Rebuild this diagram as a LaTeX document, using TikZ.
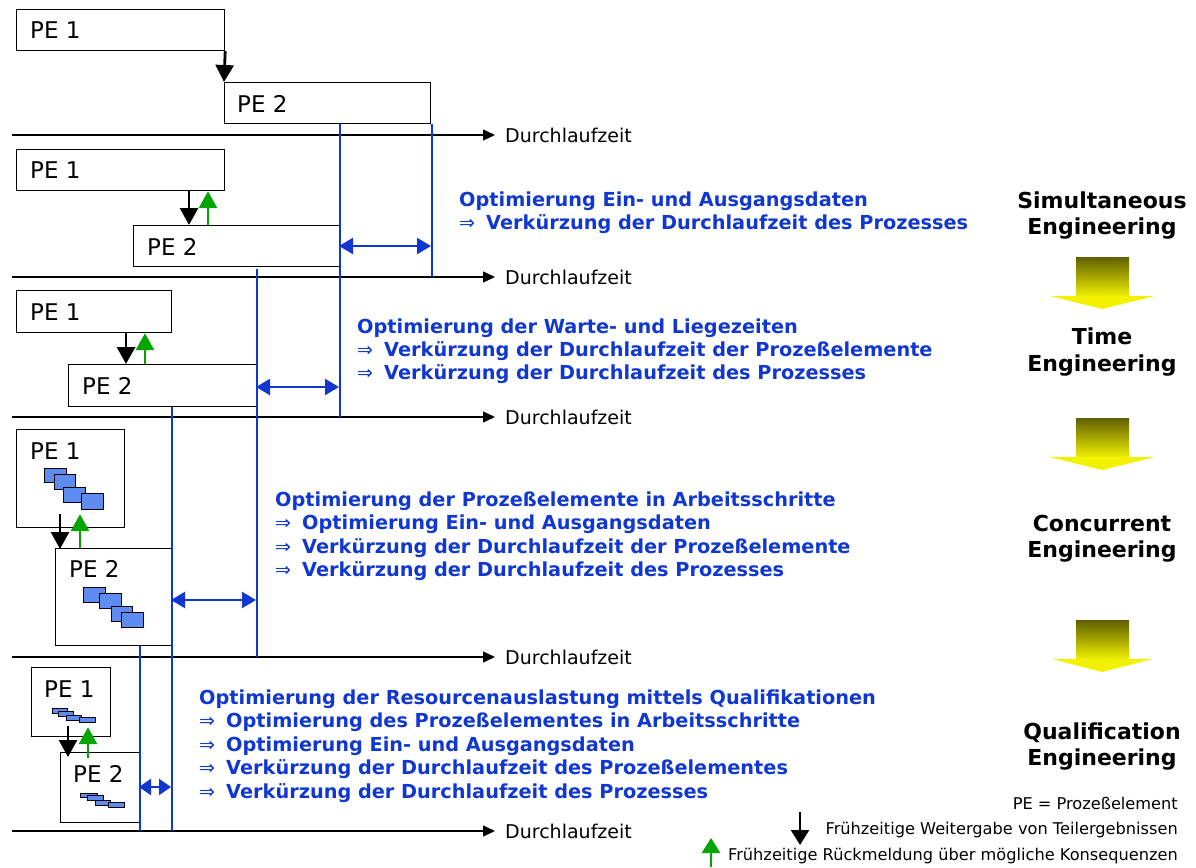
\documentclass[tikz,border=0pt]{standalone}
\usepackage{fontspec}
\setmainfont{DejaVu Sans}
\usetikzlibrary{arrows.meta,calc}
\definecolor{pblue}{RGB}{16,56,208}
\definecolor{pgreen}{RGB}{0,165,0}
\definecolor{wsfill}{RGB}{95,140,240}
\definecolor{ydark}{RGB}{95,95,0}
\definecolor{ylight}{RGB}{242,242,0}
\newcommand\myimp{\makebox[27pt][l]{\mdseries\fontsize{19}{19}\selectfont ⇒}}
\begin{document}
\begin{tikzpicture}[x=1pt,y=-1pt,
  pebox/.style={draw=black, line width=1.2pt, inner sep=0pt, anchor=north west},
  petext/.style={anchor=base west, inner sep=0pt, font=\fontsize{23}{23}\selectfont},
  axis/.style={line width=1.3pt, -{Triangle[length=12pt,width=11pt]}},
  axlabel/.style={anchor=west, inner sep=0pt, font=\fontsize{19}{19}\selectfont},
  vline/.style={draw=pblue, line width=1.7pt},
  dimarrow/.style={pblue, line width=2.4pt, {Triangle[length=14pt,width=16pt]}-{Triangle[length=14pt,width=16pt]}},
  handoff/.style={black, line width=2.8pt, -{Triangle[length=17pt,width=18pt]}},
  feedback/.style={pgreen, line width=2.8pt, -{Triangle[length=17pt,width=18pt]}},
  wsbox/.style={draw=black, line width=0.8pt, fill=wsfill},
  bluetxt/.style={anchor=base west, inner sep=0pt, text=pblue, font=\bfseries\fontsize{19.3}{19.3}\selectfont},
  rlabel/.style={anchor=base, inner sep=0pt, font=\bfseries\fontsize{22}{22}\selectfont},
  legtxt/.style={anchor=base east, inner sep=0pt, font=\fontsize{16.2}{16.2}\selectfont},
  yshaft/.style={top color=ydark, bottom color=ylight},
  yhead/.style={fill=ylight}
]
\useasboundingbox (0,0) rectangle (1196,867);

% ---------- axes ----------
\coordinate (ax1s) at (12,135); \coordinate (ax1e) at (495,135);
\coordinate (ax2s) at (12,277); \coordinate (ax2e) at (495,277);
\coordinate (ax3s) at (12,417); \coordinate (ax3e) at (495,417);
\coordinate (ax4s) at (12,657); \coordinate (ax4e) at (495,657);
\coordinate (ax5s) at (12,831); \coordinate (ax5e) at (495,831);
\foreach \i in {1,...,5}{
  \draw[axis] (ax\i s) -- (ax\i e);
  \node[axlabel] (dl\i) at ($(ax\i e)+(10,0)$) {Durchlaufzeit};
}

% ---------- boxes ----------
\node[pebox, minimum width=208pt, minimum height=41pt] (a1) at (16,9) {};
\node[pebox, minimum width=206pt, minimum height=41pt] (a2) at (224,82) {};
\node[pebox, minimum width=208pt, minimum height=41pt] (b1) at (16,149) {};
\node[pebox, minimum width=206pt, minimum height=41pt] (b2) at (133,225) {};
\node[pebox, minimum width=155pt, minimum height=42pt] (c1) at (16,290) {};
\node[pebox, minimum width=188pt, minimum height=42pt] (c2) at (68,364) {};
\node[pebox, minimum width=108pt, minimum height=98pt] (d1) at (16,429) {};
\node[pebox, minimum width=116pt, minimum height=97pt] (d2) at (55,548) {};
\node[pebox, minimum width=79pt, minimum height=69pt] (e1) at (31,667) {};
\node[pebox, minimum width=79pt, minimum height=70pt] (e2) at (60,752) {};

\node[petext] (ta1) at (30,39) {PE 1};
\node[petext] (ta2) at (237,112) {PE 2};
\node[petext] (tb1) at (30,178) {PE 1};
\node[petext] (tb2) at (147,255) {PE 2};
\node[petext] (tc1) at (30,320) {PE 1};
\node[petext] (tc2) at (82,394) {PE 2};
\node[petext] (td1) at (30,459) {PE 1};
\node[petext] (td2) at (69,577) {PE 2};
\node[petext] (te1) at (44,697) {PE 1};
\node[petext] (te2) at (73,782) {PE 2};

% work steps
\draw[wsbox] (44,468) rectangle (66,482);
\draw[wsbox] (54,474) rectangle (75,489);
\draw[wsbox] (63,487) rectangle (85,502);
\draw[wsbox] (81,493) rectangle (103,509);
\draw[wsbox] (83,587) rectangle (105,602);
\draw[wsbox] (99,593) rectangle (121,608);
\draw[wsbox] (111,606) rectangle (132,621);
\draw[wsbox] (121,612) rectangle (143,627);
\draw[wsbox] (52,708) rectangle (67,713);
\draw[wsbox] (58,711) rectangle (73,716);
\draw[wsbox] (66,715) rectangle (81,720);
\draw[wsbox] (79,717) rectangle (95,722);
\draw[wsbox] (80,793) rectangle (97,797);
\draw[wsbox] (87,795) rectangle (103,800);
\draw[wsbox] (95,800) rectangle (110,805);
\draw[wsbox] (108,802) rectangle (124,807);

% ---------- hand-off / feedback arrows ----------
\draw[handoff] (a1.south east) -- (a2.north west);
\draw[handoff] ([xshift=173pt]b1.south west) -- ([xshift=56pt]b2.north west);
\draw[feedback] ([xshift=75pt]b2.north west) -- ([xshift=192pt]b1.south west);
\draw[handoff] ([xshift=110pt]c1.south west) -- ([xshift=58pt]c2.north west);
\draw[feedback] ([xshift=77pt]c2.north west) -- ([xshift=129pt]c1.south west);
\draw[handoff] ([xshift=44pt,yshift=14pt]d1.south west) -- ([xshift=5pt,yshift=-1pt]d2.north west);
\draw[feedback] ([xshift=25pt]d2.north west) -- ([xshift=64pt,yshift=14pt]d1.south west);
\draw[handoff] ([xshift=37pt,yshift=11pt]e1.south west) -- ([xshift=8pt,yshift=-5pt]e2.north west);
\draw[feedback] ([xshift=28pt,yshift=-6pt]e2.north west) -- ([xshift=57pt,yshift=10pt]e1.south west);

% ---------- blue time lines ----------
\draw[vline] (b2.north east |- a2.south) -- (b2.north east |- ax3s);
\draw[vline] ([xshift=1pt]a2.south east) -- ([xshift=1pt]a2.south east |- ax2s);
\draw[vline] ([yshift=-2pt]c2.north east |- b2.south) -- (c2.north east |- ax4s);
\draw[vline] (d2.north east |- c2.south) -- (d2.north east |- ax5s);
\draw[vline] (e2.north east |- d2.south) -- (e2.north east |- ax5s);

\coordinate (g2a) at (339,246); \coordinate (g2b) at (431,246);
\coordinate (g3a) at (256,387); \coordinate (g3b) at (339,387);
\coordinate (g4a) at (171,600); \coordinate (g4b) at (256,600);
\coordinate (g5a) at (139,787); \coordinate (g5b) at (171,787);
\draw[dimarrow] (g2a) -- (g2b);
\draw[dimarrow] (g3a) -- (g3b);
\draw[dimarrow] (g4a) -- (g4b);
\draw[dimarrow, {Triangle[length=12pt,width=16pt]}-{Triangle[length=12pt,width=16pt]}] (g5a) -- (g5b);

% ---------- blue texts ----------
\node[bluetxt] (s1a) at (459,206) {Optimierung Ein- und Ausgangsdaten};
\node[bluetxt] (s1b) at (459,229) {\myimp Verkürzung der Durchlaufzeit des Prozesses};

\node[bluetxt] (s2a) at (357,333) {Optimierung der Warte- und Liegezeiten};
\node[bluetxt] (s2b) at (357,356) {\myimp Verkürzung der Durchlaufzeit der Prozeßelemente};
\node[bluetxt] (s2c) at (357,379) {\myimp Verkürzung der Durchlaufzeit des Prozesses};

\node[bluetxt] (s3a) at (275,506) {Optimierung der Prozeßelemente in Arbeitsschritte};
\node[bluetxt] (s3b) at (275,529) {\myimp Optimierung Ein- und Ausgangsdaten};
\node[bluetxt] (s3c) at (275,553) {\myimp Verkürzung der Durchlaufzeit der Prozeßelemente};
\node[bluetxt] (s3d) at (275,576) {\myimp Verkürzung der Durchlaufzeit des Prozesses};

\node[bluetxt] (s4a) at (199,704) {Optimierung der Resourcenauslastung mittels Qualifikationen};
\node[bluetxt] (s4b) at (199,727) {\myimp Optimierung des Prozeßelementes in Arbeitsschritte};
\node[bluetxt] (s4c) at (199,751) {\myimp Optimierung Ein- und Ausgangsdaten};
\node[bluetxt] (s4d) at (199,774) {\myimp Verkürzung der Durchlaufzeit des Prozeßelementes};
\node[bluetxt] (s4e) at (199,798) {\myimp Verkürzung der Durchlaufzeit des Prozesses};

% ---------- right column ----------
\node[rlabel] (r1a) at (1102,208) {Simultaneous};
\node[rlabel] (r1b) at (1102,234) {Engineering};
\node[rlabel] (r2a) at (1102,344) {Time};
\node[rlabel] (r2b) at (1102,371) {Engineering};
\node[rlabel] (r3a) at (1102,531) {Concurrent};
\node[rlabel] (r3b) at (1102,557) {Engineering};
\node[rlabel] (r4a) at (1102,739) {Qualification};
\node[rlabel] (r4b) at (1102,765) {Engineering};

\shade[yshaft] (1076,257) rectangle (1129,297);
\fill[yhead] (1050,296) -- (1155,296) -- (1102,309) -- cycle;
\shade[yshaft] (1076,418) rectangle (1129,458);
\fill[yhead] (1050,457) -- (1155,457) -- (1102,470) -- cycle;
\shade[yshaft] (1076,620) rectangle (1129,660);
\fill[yhead] (1052,659) -- (1153,659) -- (1102,672) -- cycle;

% ---------- legend ----------
\node[legtxt] (lg1) at (1178,809) {PE = Prozeßelement};
\node[legtxt] (lg2) at (1178,834) {Frühzeitige Weitergabe von Teilergebnissen};
\node[legtxt] (lg3) at (1178,860) {Frühzeitige Rückmeldung über mögliche Konsequenzen};
\coordinate (lb1) at (800,812); \coordinate (lb2) at (800,845);
\coordinate (lf1) at (711,867); \coordinate (lf2) at (711,838);
\draw[black, line width=2.6pt, -{Triangle[length=15pt,width=18pt]}] (lb1) -- (lb2);
\draw[pgreen, line width=2.6pt, -{Triangle[length=15pt,width=18pt]}] (lf1) -- (lf2);
\end{tikzpicture}
\end{document}
